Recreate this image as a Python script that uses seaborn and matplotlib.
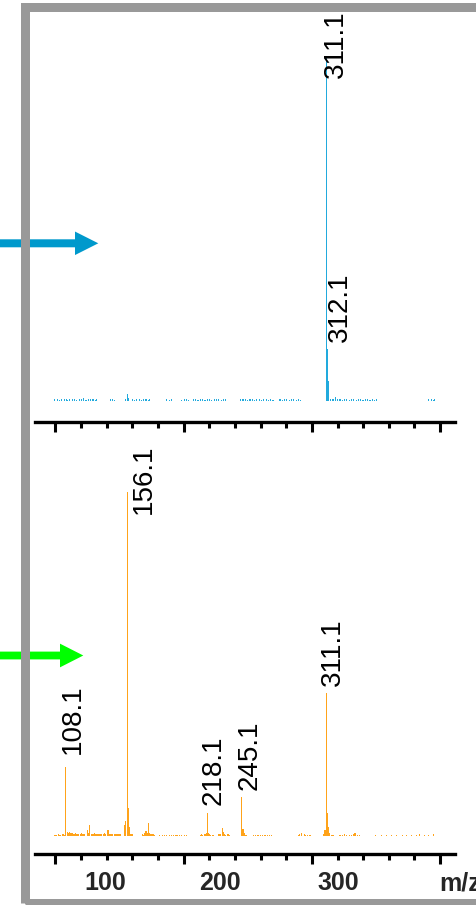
import matplotlib
matplotlib.use("Agg")
import matplotlib.pyplot as plt
import seaborn as sns
import pandas as pd
from matplotlib.patches import Rectangle, FancyArrow
from matplotlib.ticker import MultipleLocator, FixedLocator

sns.set_theme(style="white")
plt.rcParams['font.family'] = ['Liberation Sans', 'DejaVu Sans']

# ---------------- data: upper (blue) spectrum ----------------
top_peak_mz = [311.1, 312.1, 313.1, 156.1, 157.0, 154.5, 318.4]
top_peak_int = [100.0, 15.0, 5.8, 2.0, 0.8, 0.6, 1.0]
top_noise_mz = [99.4, 101.1, 102.9, 104.6, 106.4, 108.2, 109.9, 111.7, 113.5, 115.2,
                117.0, 118.8, 120.5, 122.3, 124.1, 125.9, 127.6, 129.4, 131.2, 132.4,
                142.8, 144.6, 146.3,
                159.7, 161.5, 163.3, 165.1, 166.9, 168.7, 170.5, 172.3, 173.7,
                187.0, 188.8, 190.6, 198.7, 200.5, 202.3, 204.1,
                207.5, 209.3, 211.1, 212.9, 214.7, 216.5, 218.3, 220.1, 221.9, 223.7,
                225.5, 227.3, 229.1, 230.9, 232.7,
                244.2, 246.0, 247.8, 249.6, 251.4, 253.2, 255.0, 256.8, 258.6, 260.4,
                262.2, 264.0, 265.8, 267.6, 269.4,
                275.4, 277.2, 279.0, 280.8, 282.6, 284.4, 286.2, 288.0, 289.8, 291.6,
                314.8, 316.6, 320.2, 322.0, 323.8, 325.6, 327.4, 329.2, 331.0, 332.8,
                334.6, 336.4, 338.2, 340.0, 341.8, 343.6, 345.4, 347.2, 349.0, 350.6,
                390.8, 392.6, 394.4, 395.9]
top_noise_int = [0.4, 0.5, 0.3, 0.6, 0.4, 0.5, 0.3, 0.5, 0.4, 0.6,
                 0.3, 0.5, 0.4, 0.7, 0.3, 0.5, 0.4, 0.6, 0.3, 0.4,
                 0.4, 0.5, 0.3,
                 0.4, 0.3, 0.5, 0.4, 0.3, 0.5, 0.4, 0.3, 0.4,
                 0.4, 0.3, 0.5, 0.3, 0.5, 0.4, 0.3,
                 0.4, 0.5, 0.3, 0.6, 0.4, 0.3, 0.5, 0.4, 0.3, 0.5,
                 0.4, 0.6, 0.3, 0.4, 0.5,
                 0.5, 0.4, 0.6, 0.3, 0.5, 0.4, 0.3, 0.5, 0.4, 0.3,
                 0.5, 0.4, 0.3, 0.4, 0.3,
                 0.4, 0.3, 0.5, 0.4, 0.3, 0.4, 0.5, 0.3, 0.4, 0.3,
                 0.6, 0.4, 0.5, 0.4, 0.3, 0.5, 0.4, 0.3, 0.6, 0.4,
                 0.3, 0.5, 0.4, 0.3, 0.4, 0.5, 0.3, 0.4, 0.3, 0.4,
                 0.4, 0.5, 0.3, 0.4]
top_labels = ["311.1", "312.1"]
top_label_mz = [311.1, 312.1]
top_label_int = [100.0, 15.0]

# ---------------- data: lower (orange) spectrum ----------------
low_peak_mz = [108.1, 156.1, 157.1, 158.1, 154.6, 153.6, 311.1, 312.1, 313.1, 310.1,
               218.1, 245.1, 246.1, 229.7, 230.9, 172.8, 171.0, 170.1, 127.0, 124.4, 140.8]
low_peak_int = [20.0, 100.0, 8.1, 2.6, 4.5, 3.2, 41.7, 6.6, 2.7, 1.7,
                6.6, 11.3, 2.0, 2.3, 1.2, 3.8, 1.4, 0.9, 2.3, 1.7, 1.7]
low_noise_mz = [99.6, 100.8, 102.0, 103.2, 104.4, 105.6, 106.8,
                109.2, 110.1, 111.0, 112.0, 113.0, 114.0, 115.0, 116.0, 117.0, 118.0,
                119.0, 120.0, 121.0, 122.0, 123.0, 125.4, 126.2, 128.0, 129.0, 130.0,
                131.0, 132.0, 133.0, 134.0, 135.0, 136.0, 137.0, 138.0, 139.0, 142.0,
                143.0, 144.0, 145.0, 146.0, 147.0, 148.0, 149.0, 150.0, 151.2,
                159.1, 160.0, 168.4, 169.2, 171.9, 173.7, 174.6, 175.5, 176.4, 177.3,
                181.8, 183.5, 185.2, 186.9, 188.6, 190.3, 192.0, 193.7, 195.4, 197.1,
                198.8, 200.5, 202.2,
                212.8, 214.0, 215.2, 216.3, 217.2, 219.2, 220.2, 221.3, 222.5,
                227.2, 228.4, 232.0, 233.2, 234.4, 235.6,
                247.2, 248.3, 249.4,
                254.5, 256.3, 258.1, 259.9, 261.7, 263.5, 265.3, 267.1, 268.9,
                289.2, 290.8, 292.4, 293.6, 295.0, 296.6, 298.2,
                309.0, 314.1, 315.3, 316.4,
                322.3, 324.0, 325.7, 327.4, 329.1, 330.8, 332.5, 333.6, 335.2, 336.9,
                350.0, 354.5, 358.1, 362.0, 366.4, 370.2, 374.5, 378.0, 381.2, 384.3,
                388.0, 391.5, 394.8]
low_noise_int = [0.4, 0.3, 0.5, 0.4, 0.3, 0.5, 0.4,
                 1.2, 0.9, 1.1, 0.8, 1.0, 0.7, 0.6, 0.8, 0.5, 0.7,
                 0.6, 0.9, 0.5, 0.7, 0.6, 0.8, 0.9, 0.7, 0.6, 0.8,
                 0.5, 0.7, 0.6, 0.5, 0.7, 0.6, 0.5, 0.8, 0.6, 0.6,
                 0.5, 0.7, 0.6, 0.5, 0.6, 0.5, 0.7, 0.5, 0.6,
                 0.7, 0.5, 0.5, 0.4, 0.8, 0.9, 0.6, 0.5, 0.6, 0.4,
                 0.3, 0.4, 0.3, 0.4, 0.3, 0.4, 0.3, 0.4, 0.3, 0.4,
                 0.3, 0.4, 0.3,
                 0.4, 0.5, 0.4, 0.6, 0.9, 0.9, 0.5, 0.4, 0.3,
                 0.5, 0.6, 0.5, 0.4, 0.5, 0.3,
                 0.9, 0.4, 0.3,
                 0.3, 0.4, 0.3, 0.3, 0.4, 0.3, 0.4, 0.3, 0.4,
                 0.4, 0.5, 0.8, 0.6, 0.4, 0.3, 0.4,
                 0.6, 0.8, 0.4, 0.3,
                 0.4, 0.3, 0.5, 0.4, 0.3, 0.4, 0.6, 0.9, 0.4, 0.3,
                 0.3, 0.3, 0.4, 0.3, 0.3, 0.4, 0.3, 0.3, 0.4, 0.6,
                 0.3, 0.3, 0.6]
low_labels = ["108.1", "156.1", "218.1", "245.1", "311.1"]
low_label_mz = [108.1, 156.1, 218.1, 245.1, 311.1]
low_label_int = [20.0, 100.0, 6.6, 11.3, 41.7]

tick_labels = ["100", "200", "300"]
tick_label_pos = [138.7, 228.4, 320.4]
major_ticks = [100, 200, 300, 400]

# ---------------- layout / style ----------------
W, H = 476, 905
fig = plt.figure(figsize=(W / 100, H / 100), dpi=100)

XLIM = (84.1, 411.6)
PX = 100.0 / 344.0   # intensity units per pixel

def axes_rect(spine_y, top_y):
    return [35 / W, (H - spine_y) / H, 420 / W, (spine_y - top_y) / H]

ax1 = fig.add_axes(axes_rect(421.7, 12))
ax2 = fig.add_axes(axes_rect(854.3, 440))

binwidth = 0.9
bin_start = 98.25
binrange = (bin_start, bin_start + binwidth * 336)

top_df = pd.DataFrame({"mz": top_peak_mz + top_noise_mz,
                       "intensity": top_peak_int + top_noise_int})
low_df = pd.DataFrame({"mz": low_peak_mz + low_noise_mz,
                       "intensity": low_peak_int + low_noise_int})

sns.histplot(data=top_df, x="mz", weights="intensity", binwidth=binwidth,
             binrange=binrange, color="#22AADD", alpha=1, linewidth=0,
             element="bars", ax=ax1)
sns.histplot(data=low_df, x="mz", weights="intensity", binwidth=binwidth,
             binrange=binrange, color="#FFA31A", alpha=1, linewidth=0,
             element="bars", ax=ax2)

ax1.set_ylim(-21.0 * PX, (400.7 - 12) * PX)
ax2.set_ylim(-18.3 * PX, (836 - 440) * PX)

for ax in (ax1, ax2):
    ax.set_xlim(*XLIM)
    ax.set_xlabel("")
    ax.set_ylabel("")
    ax.set_facecolor("none")
    for s in ("left", "right", "top"):
        ax.spines[s].set_visible(False)
    ax.spines["bottom"].set_linewidth(2.4)
    ax.spines["bottom"].set_color("black")
    ax.set_yticks([])
    ax.xaxis.set_major_locator(FixedLocator(major_ticks))
    ax.xaxis.set_minor_locator(MultipleLocator(20))
    ax.tick_params(axis="x", which="major", direction="out", length=7.5,
                   width=2.2, color="black", bottom=True, labelbottom=False)
    ax.tick_params(axis="x", which="minor", direction="out", length=4,
                   width=2.2, color="black", bottom=True)

# peak annotations (offsets in pixels)
top_offsets = [(-3.0, -21.3), (-1.0, 6.6)]
low_offsets = [(-6.0, 13.0), (3.7, -22.0), (-5.9, 8.0), (-4.8, 7.3), (-6.0, 6.7)]

for ax, labs, mzs, ints, offs in ((ax1, top_labels, top_label_mz, top_label_int, top_offsets),
                                  (ax2, low_labels, low_label_mz, low_label_int, low_offsets)):
    for lab, m, i, (dx, dy) in zip(labs, mzs, ints, offs):
        ax.annotate(lab, xy=(m, i), xytext=(dx, dy), textcoords="offset pixels",
                    rotation=90, ha="left", va="bottom", fontsize=20,
                    color="black", annotation_clip=False)

# tick labels under the lower axis
sec = ax2.secondary_xaxis("bottom")
sec.set_xticks(tick_label_pos, labels=tick_labels)
sec.tick_params(length=0, pad=12.0, labelsize=18)
for t in sec.get_xticklabels():
    t.set_fontweight("bold")
sec.spines["bottom"].set_visible(False)

ax2.set_xlabel("m/z", fontsize=18, fontweight="bold")
ax2.xaxis.set_label_coords((460 - 35) / 420, -(871 - 854.3) / 414.3)

# arrows (inch coordinates)
fig.add_artist(FancyArrow(-0.1, (H - 243.3) / 100, 1.083, 0, width=0.08,
                          head_width=0.235, head_length=0.233,
                          length_includes_head=True, color="#0099CC",
                          linewidth=0, transform=fig.dpi_scale_trans, zorder=2))
fig.add_artist(FancyArrow(-0.1, (H - 655.5) / 100, 0.933, 0, width=0.078,
                          head_width=0.237, head_length=0.233,
                          length_includes_head=True, color="#00FF00",
                          linewidth=0, transform=fig.dpi_scale_trans, zorder=2))

# grey frame
fig.add_artist(Rectangle((24.5 / W, (H - 902.5) / H), (520 - 24.5) / W,
                         (902.5 - 7.5) / H, transform=fig.transFigure,
                         fill=False, edgecolor="#999999", linewidth=6.48, zorder=3))

fig.savefig("out.png", dpi=100)
